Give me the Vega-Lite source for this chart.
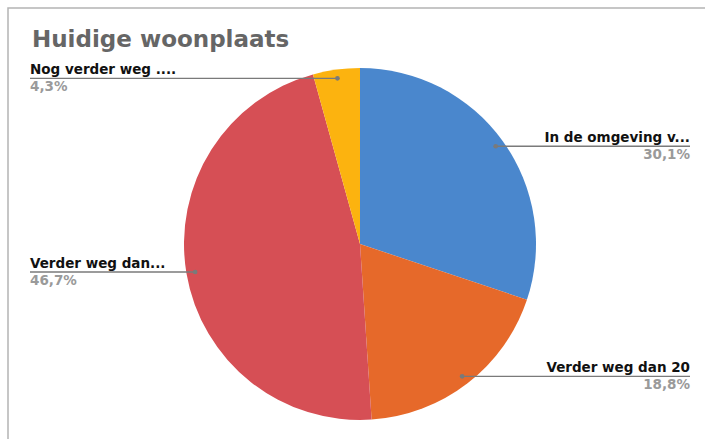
{
  "$schema": "https://vega.github.io/schema/vega-lite/v6.json",
  "width": 707,
  "height": 441,
  "autosize": {"type": "none"},
  "padding": {"left": 8, "top": 8, "right": 0, "bottom": 0},
  "background": "white",
  "view": {"stroke": "#b4b4b4", "strokeWidth": 1.5},
  "title": {
    "text": "Huidige woonplaats",
    "anchor": "start",
    "frame": "group",
    "orient": "top",
    "offset": -62,
    "dx": 24,
    "baseline": "alphabetic",
    "font": "DejaVu Sans",
    "fontWeight": "bold",
    "fontSize": 23,
    "color": "#666666"
  },
  "data": {
    "values": [
      {"categorie": "In de omgeving v...", "aandeel": 30.1, "volgorde": 1},
      {"categorie": "Verder weg dan 20", "aandeel": 18.8, "volgorde": 2},
      {"categorie": "Verder weg dan...", "aandeel": 46.7, "volgorde": 3},
      {"categorie": "Nog verder weg ....", "aandeel": 4.3, "volgorde": 4}
    ]
  },
  "transform": [
    {"window": [{"op": "sum", "field": "aandeel", "as": "cum"}], "sort": [{"field": "volgorde"}]},
    {"joinaggregate": [{"op": "sum", "field": "aandeel", "as": "totaal"}]},
    {"calculate": "(datum.cum - datum.aandeel / 2) / datum.totaal * 2 * PI", "as": "mid"},
    {"calculate": "0.95 * sin(datum.mid)", "as": "px"},
    {"calculate": "0.95 * cos(datum.mid)", "as": "py"},
    {"calculate": "sin(datum.mid) > 0 ? 1 : -1", "as": "kant"},
    {"calculate": "1.875 * datum.kant", "as": "lx"},
    {"calculate": "replace(format(datum.aandeel, '.1f'), '.', ',') + '%'", "as": "pct"}
  ],
  "encoding": {
    "x": {"type": "quantitative", "scale": {"domain": [-2.0, 2.017045], "nice": false, "zero": false}, "axis": null},
    "y": {"type": "quantitative", "scale": {"domain": [-1.164773, 1.340909], "nice": false, "zero": false}, "axis": null}
  },
  "layer": [
    {
      "mark": {"type": "arc", "outerRadius": 176},
      "encoding": {
        "x": {"datum": 0, "type": "quantitative"},
        "y": {"datum": 0, "type": "quantitative"},
        "theta": {"field": "aandeel", "type": "quantitative", "stack": true},
        "order": {"field": "volgorde", "type": "quantitative"},
        "color": {
          "field": "categorie",
          "type": "nominal",
          "scale": {
            "domain": ["In de omgeving v...", "Verder weg dan 20", "Verder weg dan...", "Nog verder weg ...."],
            "range": ["#4a87cd", "#e6692a", "#d64f55", "#fcb30f"]
          },
          "legend": null
        }
      }
    },
    {
      "mark": {"type": "rule", "color": "#7a7a7a", "strokeWidth": 1.4},
      "encoding": {
        "x": {"field": "px", "type": "quantitative"},
        "x2": {"field": "lx"},
        "y": {"field": "py", "type": "quantitative"},
        "y2": {"field": "py"}
      }
    },
    {
      "mark": {"type": "circle", "color": "#7a7a7a", "opacity": 1, "size": 22},
      "encoding": {
        "x": {"field": "px", "type": "quantitative"},
        "y": {"field": "py", "type": "quantitative"}
      }
    },
    {
      "mark": {
        "type": "text",
        "font": "DejaVu Sans",
        "fontWeight": "bold",
        "fontSize": 13.5,
        "color": "#111111",
        "baseline": "alphabetic",
        "dy": -4,
        "align": {"expr": "datum.kant > 0 ? 'right' : 'left'"}
      },
      "encoding": {
        "x": {"field": "lx", "type": "quantitative"},
        "y": {"field": "py", "type": "quantitative"},
        "text": {"field": "categorie"}
      }
    },
    {
      "mark": {
        "type": "text",
        "font": "DejaVu Sans",
        "fontWeight": "bold",
        "fontSize": 13.5,
        "color": "#9a9a9a",
        "baseline": "alphabetic",
        "dy": 13,
        "align": {"expr": "datum.kant > 0 ? 'right' : 'left'"}
      },
      "encoding": {
        "x": {"field": "lx", "type": "quantitative"},
        "y": {"field": "py", "type": "quantitative"},
        "text": {"field": "pct"}
      }
    }
  ]
}
